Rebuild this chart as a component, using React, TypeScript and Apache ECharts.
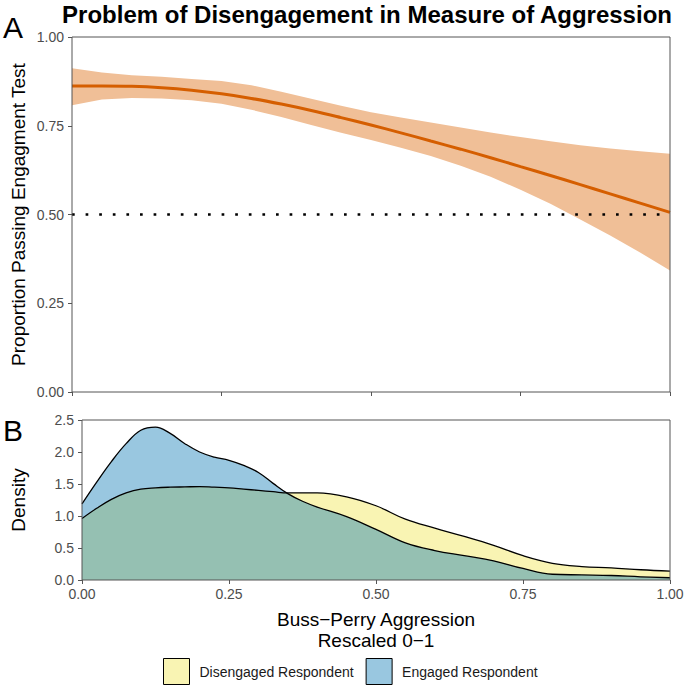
import React, { useEffect, useRef } from "react";
import * as echarts from "echarts";

// Panel A: logistic fit of passing engagement test
const fitX = [0, 0.05, 0.1, 0.15, 0.2, 0.25, 0.3, 0.35, 0.4, 0.45, 0.5, 0.55, 0.6, 0.65, 0.7, 0.75, 0.8, 0.85, 0.9, 0.95, 1.0];
const fitLine = [0.862, 0.862, 0.861, 0.857, 0.85, 0.84, 0.827, 0.811, 0.793, 0.773, 0.752, 0.73, 0.707, 0.684, 0.66, 0.635, 0.61, 0.584, 0.558, 0.532, 0.506];
const ciUpper = [0.912, 0.9, 0.892, 0.888, 0.882, 0.876, 0.864, 0.846, 0.826, 0.806, 0.788, 0.773, 0.759, 0.745, 0.731, 0.718, 0.706, 0.695, 0.686, 0.678, 0.671];
const ciLower = [0.808, 0.824, 0.828, 0.827, 0.822, 0.812, 0.795, 0.775, 0.752, 0.73, 0.71, 0.688, 0.665, 0.637, 0.606, 0.57, 0.53, 0.486, 0.441, 0.393, 0.342];
const threshold = 0.5;

// Panel B: densities
const densX = [0, 0.025, 0.05, 0.075, 0.1, 0.125, 0.15, 0.175, 0.2, 0.225, 0.25, 0.275, 0.3, 0.325, 0.35, 0.375, 0.4, 0.45, 0.5, 0.55, 0.6, 0.65, 0.7, 0.75, 0.8, 0.85, 0.9, 0.95, 1.0];
const disengaged = [0.96, 1.12, 1.26, 1.36, 1.42, 1.44, 1.45, 1.455, 1.46, 1.45, 1.44, 1.42, 1.4, 1.38, 1.36, 1.36, 1.36, 1.3, 1.16, 0.95, 0.81, 0.68, 0.54, 0.38, 0.26, 0.21, 0.19, 0.16, 0.14];
const engaged = [1.19, 1.53, 1.85, 2.13, 2.34, 2.39, 2.29, 2.13, 2.0, 1.92, 1.87, 1.79, 1.68, 1.51, 1.35, 1.23, 1.14, 0.99, 0.79, 0.58, 0.46, 0.38, 0.3, 0.18, 0.09, 0.08, 0.07, 0.05, 0.035];

const legendNames = ["Disengaged Respondent", "Engaged Respondent"];
const yellowFill = "rgba(240,228,66,0.4)";
const blueFill = "rgba(0,114,178,0.4)";
const FONT = '"Liberation Sans", Arial, sans-serif';

export default function App() {
  const ref = useRef<HTMLDivElement>(null);
  useEffect(() => {
    document.body.style.margin = "0";
    const chart = echarts.init(ref.current!, null, { renderer: "svg" });
    const axisCol = "#555";
    const labelStyle = { color: "#4D4D4D", fontSize: 14, fontFamily: FONT };
    const option: any = {
      animation: false,
      grid: [
        { left: 72, top: 37, width: 598, height: 355, show: true, borderColor: axisCol, borderWidth: 1, backgroundColor: "transparent", z: 5 },
        { left: 82, top: 420, width: 588, height: 160, show: true, borderColor: axisCol, borderWidth: 1, backgroundColor: "transparent", z: 5 },
      ],
      xAxis: [
        {
          gridIndex: 0, type: "value", min: 0, max: 1, interval: 0.25,
          axisLine: { show: false }, axisTick: { show: true, length: 4, lineStyle: { color: axisCol } },
          axisLabel: { show: false }, splitLine: { show: false },
        },
        {
          gridIndex: 1, type: "value", min: 0, max: 1, interval: 0.25,
          axisLine: { show: false }, axisTick: { show: true, length: 4, lineStyle: { color: axisCol } },
          axisLabel: { ...labelStyle, margin: 7, formatter: (v: number) => v.toFixed(2) }, splitLine: { show: false },
        },
      ],
      yAxis: [
        {
          gridIndex: 0, type: "value", min: 0, max: 1, interval: 0.25,
          axisLine: { show: false }, axisTick: { show: true, length: 4, lineStyle: { color: axisCol } },
          axisLabel: { ...labelStyle, margin: 8, formatter: (v: number) => v.toFixed(2) }, splitLine: { show: false },
        },
        {
          gridIndex: 1, type: "value", min: 0, max: 2.5, interval: 0.5,
          axisLine: { show: false }, axisTick: { show: true, length: 4, lineStyle: { color: axisCol } },
          axisLabel: { ...labelStyle, margin: 8, formatter: (v: number) => v.toFixed(1) }, splitLine: { show: false },
        },
      ],
      legend: {
        left: 163, top: 658, orient: "horizontal", padding: 0,
        itemWidth: 26, itemHeight: 26, itemGap: 12,
        textStyle: { fontSize: 14, color: "#1a1a1a", fontFamily: FONT, padding: [0, 0, 0, 5] },
        data: [
          { name: legendNames[0], icon: "rect", itemStyle: { color: yellowFill, borderColor: "#000", borderWidth: 1 } },
          { name: legendNames[1], icon: "rect", itemStyle: { color: blueFill, borderColor: "#000", borderWidth: 1 } },
        ],
        selectedMode: false,
      },
      series: [
        {
          type: "custom", name: "ciBand", xAxisIndex: 0, yAxisIndex: 0, silent: true,
          encode: { x: 0, y: 1 },
          data: [[0, 0]],
          renderItem: (_params: any, api: any) => {
            const pts: number[][] = [];
            for (let i = 0; i < fitX.length; i++) pts.push(api.coord([fitX[i], ciUpper[i]]));
            for (let i = fitX.length - 1; i >= 0; i--) pts.push(api.coord([fitX[i], ciLower[i]]));
            return { type: "polygon", shape: { points: pts }, style: { fill: "#F0BF97", stroke: "none" } };
          },
        },
        {
          type: "line", name: "fit", xAxisIndex: 0, yAxisIndex: 0, smooth: 0.4, symbol: "none", silent: true,
          lineStyle: { color: "#D55E00", width: 3 },
          data: fitX.map((x, i) => [x, fitLine[i]]),
        },
        {
          type: "line", name: "threshold", xAxisIndex: 0, yAxisIndex: 0, symbol: "none", silent: true,
          lineStyle: { color: "#000", width: 2.7, type: [2.7, 10.9], cap: "butt" },
          data: [[0, threshold], [1, threshold]],
        },
        {
          type: "line", name: legendNames[0], xAxisIndex: 1, yAxisIndex: 1, smooth: 0.4, symbol: "none", silent: true,
          itemStyle: { color: yellowFill },
          lineStyle: { color: "#000", width: 1.3 },
          areaStyle: { color: yellowFill, opacity: 1 },
          data: densX.map((x, i) => [x, disengaged[i]]),
        },
        {
          type: "line", name: legendNames[1], xAxisIndex: 1, yAxisIndex: 1, smooth: 0.4, symbol: "none", silent: true,
          itemStyle: { color: blueFill },
          lineStyle: { color: "#000", width: 1.3 },
          areaStyle: { color: blueFill, opacity: 1 },
          data: densX.map((x, i) => [x, engaged[i]]),
        },
      ],
      graphic: [
        {
          type: "text", x: 367, y: 14,
          style: { text: "Problem of Disengagement in Measure of Aggression", fontSize: 24, fontWeight: "bold", fontFamily: FONT, fill: "#000", align: "center", verticalAlign: "middle" },
        },
        {
          type: "text", x: 3, y: 27,
          style: { text: "A", fontSize: 30, fontFamily: FONT, fill: "#000", align: "left", verticalAlign: "middle" },
        },
        {
          type: "text", x: 3, y: 430,
          style: { text: "B", fontSize: 30, fontFamily: FONT, fill: "#000", align: "left", verticalAlign: "middle" },
        },
        {
          type: "text", x: 18.5, y: 214.5, rotation: Math.PI / 2,
          style: { text: "Proportion Passing Engagment Test", fontSize: 19, fontFamily: FONT, fill: "#000", align: "center", verticalAlign: "middle" },
        },
        {
          type: "text", x: 18.5, y: 500, rotation: Math.PI / 2,
          style: { text: "Density", fontSize: 19, fontFamily: FONT, fill: "#000", align: "center", verticalAlign: "middle" },
        },
        {
          type: "text", x: 376, y: 630,
          style: { text: "Buss\u2212Perry Aggression\nRescaled 0\u22121", fontSize: 19, lineHeight: 21, fontFamily: FONT, fill: "#000", align: "center", verticalAlign: "middle" },
        },
      ],
    };
    chart.setOption(option);
    return () => chart.dispose();
  }, []);
  return <div ref={ref} style={{ width: 689, height: 688 }} />;
}
